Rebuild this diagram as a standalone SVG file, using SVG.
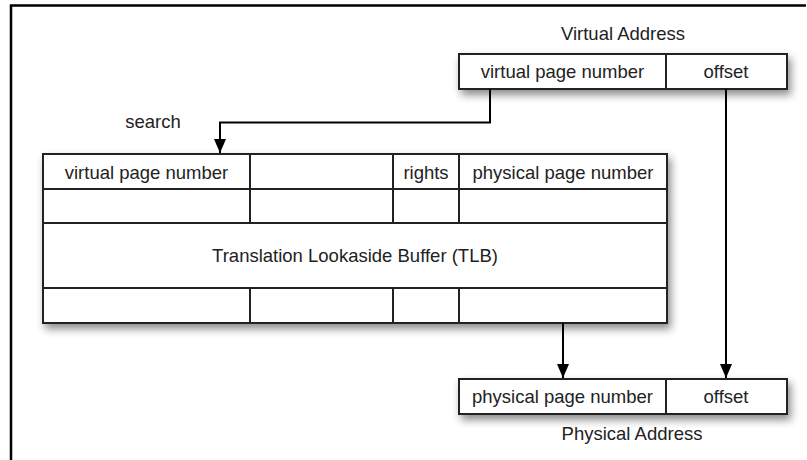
<svg xmlns="http://www.w3.org/2000/svg" width="807" height="460" viewBox="0 0 807 460">
<defs>
<filter id="sh" x="-10%" y="-20%" width="130%" height="160%">
<feDropShadow dx="3" dy="5" stdDeviation="4" flood-color="#000" flood-opacity="0.45"/>
</filter>
<marker id="ah" viewBox="0 0 14 12" refX="14" refY="6" markerWidth="14" markerHeight="12" markerUnits="userSpaceOnUse" orient="auto">
<path d="M0,0 L14,6 L0,12 Z" fill="#000"/>
</marker>
</defs>
<style>
text{font-family:"Liberation Sans",Arial,Helvetica,sans-serif;font-size:18.5px;fill:#222;text-anchor:middle}
.box{fill:#fff;stroke:#222;stroke-width:2}
.ln{fill:none;stroke:#222;stroke-width:2}
.con{fill:none;stroke:#000;stroke-width:2}
</style>
<rect width="807" height="460" fill="#fff"/>
<path d="M11,460 V5.5 H806" fill="none" stroke="#000" stroke-width="2.5"/>

<g id="virtual-address">
<text x="623" y="40">Virtual Address</text>
<rect class="box" x="459" y="54" width="328" height="35" filter="url(#sh)"/>
<line class="ln" x1="666" y1="54" x2="666" y2="89"/>
<text x="562.5" y="78">virtual page number</text>
<text x="726" y="78">offset</text>
</g>

<g id="tlb">
<rect class="box" x="43" y="154" width="624" height="169" filter="url(#sh)"/>
<line class="ln" x1="43" y1="189" x2="667" y2="189"/>
<line class="ln" x1="43" y1="223" x2="667" y2="223"/>
<line class="ln" x1="43" y1="288" x2="667" y2="288"/>
<line class="ln" x1="250" y1="154" x2="250" y2="223"/>
<line class="ln" x1="393" y1="154" x2="393" y2="223"/>
<line class="ln" x1="459" y1="154" x2="459" y2="223"/>
<line class="ln" x1="250" y1="288" x2="250" y2="323"/>
<line class="ln" x1="393" y1="288" x2="393" y2="323"/>
<line class="ln" x1="459" y1="288" x2="459" y2="323"/>
<text x="146.5" y="178.5">virtual page number</text>
<text x="426" y="178.5">rights</text>
<text x="563" y="178.5">physical page number</text>
<text x="355" y="262">Translation Lookaside Buffer (TLB)</text>
</g>

<g id="physical-address">
<rect class="box" x="459" y="379" width="328" height="35" filter="url(#sh)"/>
<line class="ln" x1="666" y1="379" x2="666" y2="414"/>
<text x="562.5" y="403">physical page number</text>
<text x="726" y="403">offset</text>
<text x="632" y="440">Physical Address</text>
</g>

<g id="connectors">
<path class="con" d="M490,89 V122.5 H220 V153" marker-end="url(#ah)"/>
<text x="153" y="128">search</text>
<path class="con" d="M563,323 V378" marker-end="url(#ah)"/>
<path class="con" d="M726,89 V378" marker-end="url(#ah)"/>
</g>
</svg>
